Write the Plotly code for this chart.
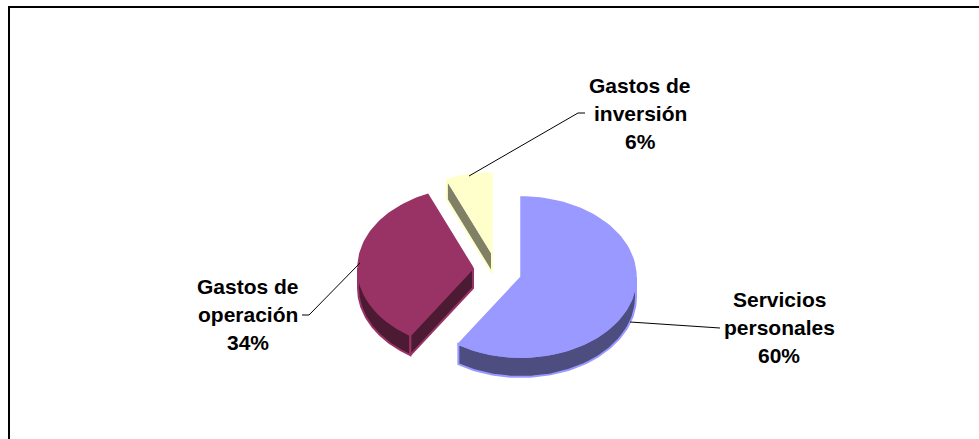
import numpy as np
import plotly.graph_objects as go

# Data
label_lines = [["Servicios", "personales"], ["Gastos de", "operación"], ["Gastos de", "inversión"]]
values = [60, 34, 6]

# Styles / layout (pixel space)
W, H = 979, 439
top_cols = ["#9999FF", "#993366", "#FFFFCC"]
side_cols = ["#4D4D80", "#4D1A33", "#808066"]
apex = [(521, 277), (473, 268), (492, 253)]
RX, RY, DEPTH = 115, 80, 20
# Perspective skew of each slice boundary, in degrees
boundary_skew = [0, -3, -1.5, 0]
label_pos = [(779, 299), (248, 286), (640, 85)]
LINE_STEP = 28
leaders = [
    ([630, 720], [322, 328]),
    ([360, 309, 302], [263, 315, 315]),
    ([469, 578, 585], [176, 113, 113]),
]

fracs = np.array(values, dtype=float) / sum(values)
bounds = np.concatenate([[0], np.cumsum(fracs)]) * 2 * np.pi + np.radians(boundary_skew)
starts, ends = bounds[:-1], bounds[1:]


def arc(center, t0, t1, dy=0.0):
    t = np.linspace(t0, t1, 90)
    return center[0] + RX * np.sin(t), center[1] + dy - RY * np.cos(t)


fig = go.Figure()


def poly(xs, ys, fill, line, width=2):
    fig.add_trace(go.Scatter(
        x=list(xs), y=list(ys), mode="lines", fill="toself", fillcolor=fill,
        line=dict(color=line, width=width), hoverinfo="skip", showlegend=False))


for i in range(len(values)):
    c, t0, t1 = apex[i], starts[i], ends[i]
    # Outer rim: only the part facing the viewer (90 deg to 270 deg)
    a, b = max(t0, np.pi / 2), min(t1, 3 * np.pi / 2)
    if a < b:
        x1, y1 = arc(c, a, b)
        x2, y2 = arc(c, a, b, DEPTH)
        poly(np.r_[x1, x2[::-1], x1[0]], np.r_[y1, y2[::-1], y1[0]], side_cols[i], top_cols[i])
    # Cut wall facing the viewer: the one at the slice's start angle
    if i in (1, 2):
        ex, ey = arc(c, t0, t0)
        ex, ey = ex[0], ey[0]
        poly([c[0], ex, ex, c[0], c[0]],
             [c[1], ey, ey + DEPTH, c[1] + DEPTH, c[1]], side_cols[i], top_cols[i])
    # Top face
    x, y = arc(c, t0, t1)
    poly(np.r_[c[0], x, c[0]], np.r_[c[1], y, c[1]], top_cols[i], top_cols[i], 1.5)

# Leader lines
for lx, ly in leaders:
    fig.add_trace(go.Scatter(x=lx, y=ly, mode="lines", line=dict(color="black", width=1),
                             hoverinfo="skip", showlegend=False))

# Labels
for lines, v, (lx, ly) in zip(label_lines, values, label_pos):
    for k, txt in enumerate(lines + [f"{v}%"]):
        fig.add_annotation(x=lx, y=ly + k * LINE_STEP, text=f"<b>{txt}</b>", showarrow=False,
                           xanchor="center", yanchor="middle",
                           font=dict(family="Liberation Sans, Arial, sans-serif", size=21, color="black"))

axis = dict(visible=False, fixedrange=True)
fig.update_layout(
    width=W, height=H, margin=dict(l=0, r=0, t=0, b=0),
    paper_bgcolor="white", plot_bgcolor="white", showlegend=False,
    xaxis=dict(range=[0, W], **axis),
    yaxis=dict(range=[H, 0], **axis),
    shapes=[
        dict(type="line", xref="paper", yref="paper", x0=9 / W, x1=1, y0=1 - 7 / H, y1=1 - 7 / H,
             line=dict(color="black", width=2)),
        dict(type="line", xref="paper", yref="paper", x0=9 / W, x1=9 / W, y0=0, y1=1 - 6 / H,
             line=dict(color="black", width=2)),
    ],
)
fig.write_html("out.html", config=dict(displayModeBar=False),
               post_script="document.body.style.margin='0';document.body.style.overflow='hidden';")
